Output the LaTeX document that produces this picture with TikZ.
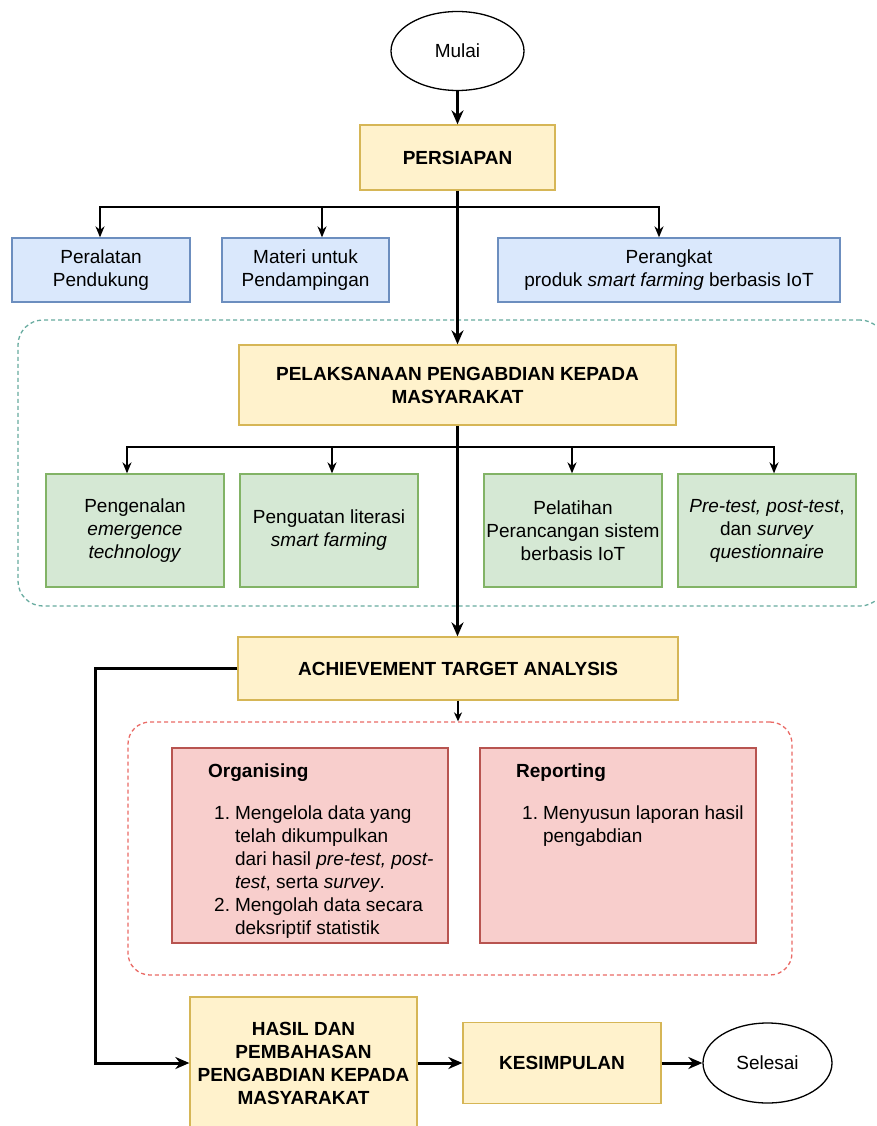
\documentclass[tikz,border=0pt]{standalone}
\usepackage{fontspec}
\setmainfont{Liberation Sans}
\usetikzlibrary{arrows.meta,shapes.geometric}
\definecolor{yfill}{HTML}{FFF2CC}
\definecolor{ystroke}{HTML}{D6B656}
\definecolor{bfill}{HTML}{DAE8FC}
\definecolor{bstroke}{HTML}{6C8EBF}
\definecolor{gfill}{HTML}{D5E8D4}
\definecolor{gstroke}{HTML}{82B366}
\definecolor{rfill}{HTML}{F8CECC}
\definecolor{rstroke}{HTML}{B85450}
\definecolor{tealdash}{HTML}{67AB9F}
\definecolor{reddash}{HTML}{EA6B66}
\begin{document}
\begin{tikzpicture}[x=1pt,y=-1pt,
  txt/.style={font=\fontsize{19}{23}\selectfont},
  box/.style={draw, line width=1.3pt, align=center, inner sep=0pt, txt},
  ybox/.style={box, draw=ystroke, fill=yfill, font=\bfseries\fontsize{19}{23}\selectfont},
  bbox/.style={box, draw=bstroke, fill=bfill},
  gbox/.style={box, draw=gstroke, fill=gfill},
  rbox/.style={box, draw=rstroke, fill=rfill},
  term/.style={ellipse, draw=black, fill=white, line width=1.3pt, inner sep=0pt, txt},
  grp/.style={line width=1.3pt, dash pattern=on 4pt off 3pt, inner sep=0pt},
  thickarr/.style={line width=3pt, -{Stealth[length=14pt,width=12pt]}},
  thinarr/.style={line width=1.8pt, -{Stealth[length=11pt,width=9pt]}},
  ]
\useasboundingbox (0,0) rectangle (876,1126);
\clip (0,0) rectangle (876,1126);
\fill[white] (0,0) rectangle (876,1126);

% groups
\node[grp, draw=tealdash, rounded corners=25pt, minimum width=867pt, minimum height=286pt] (grp1) at (451.5,463) {};
\node[grp, draw=reddash, rounded corners=22pt, minimum width=664pt, minimum height=253pt] (grp2) at (460,848.5) {};

% nodes
\node[term, minimum width=133pt, minimum height=79pt] (mulai) at (457.5,51) {Mulai};
\node[ybox, minimum width=195pt, minimum height=65pt] (persiapan) at (457.5,157.5) {PERSIAPAN};

\node[bbox, minimum width=178pt, minimum height=64pt] (peralatan) at (101,270) {Peralatan\\Pendukung};
\node[bbox, minimum width=167pt, minimum height=64pt] (materi) at (305.5,270) {Materi untuk\\Pendampingan};
\node[bbox, minimum width=342pt, minimum height=64pt] (perangkat) at (669,270) {Perangkat\\produk \textit{smart farming} berbasis IoT};

\node[ybox, minimum width=437pt, minimum height=80pt] (pelaksanaan) at (457.5,385) {PELAKSANAAN PENGABDIAN KEPADA\\MASYARAKAT};

\node[gbox, minimum width=178pt, minimum height=113pt] (g1) at (135,530.5) {Pengenalan\\\textit{emergence}\\\textit{technology}};
\node[gbox, minimum width=178pt, minimum height=113pt] (g2) at (329,530.5) {Penguatan literasi\\\textit{smart farming}};
\node[gbox, minimum width=178pt, minimum height=113pt] (g3) at (573,530.5) {Pelatihan\\Perancangan sistem\\berbasis IoT};
\node[gbox, minimum width=178pt, minimum height=113pt] (g4) at (767,530.5) {\textit{Pre-test, post-test},\\dan \textit{survey}\\\textit{questionnaire}};

\node[ybox, minimum width=440pt, minimum height=63pt] (achievement) at (458,668.5) {ACHIEVEMENT TARGET ANALYSIS};

\node[rbox, minimum width=276pt, minimum height=195pt] (org) at (310,845.5) {};
\node[rbox, minimum width=276pt, minimum height=195pt] (rep) at (618,845.5) {};
\node[txt, font=\bfseries\fontsize{19}{23}\selectfont, anchor=base west, inner sep=0pt] (orgtitle) at (208,777) {Organising};
\node[txt, anchor=base west, inner sep=0pt] (orglist) at (214,819) {\begin{tabular}[t]{@{}r@{\hspace{5pt}}l@{}}
1. & Mengelola data yang\\
 & telah dikumpulkan\\
 & dari hasil \textit{pre-test, post-}\\
 & \textit{test}, serta \textit{survey}.\\
2. & Mengolah data secara\\
 & deksriptif statistik
\end{tabular}};
\node[txt, font=\bfseries\fontsize{19}{23}\selectfont, anchor=base west, inner sep=0pt] (reptitle) at (516,777) {Reporting};
\node[txt, anchor=base west, inner sep=0pt] (replist) at (522,819) {\begin{tabular}[t]{@{}r@{\hspace{5pt}}l@{}}
1. & Menyusun laporan hasil\\
 & pengabdian
\end{tabular}};

\node[ybox, minimum width=227pt, minimum height=132pt] (hasil) at (303.5,1063) {HASIL DAN\\PEMBAHASAN\\PENGABDIAN KEPADA\\MASYARAKAT};
\node[ybox, minimum width=198pt, minimum height=81pt] (kesimpulan) at (562,1063) {KESIMPULAN};
\node[term, minimum width=129pt, minimum height=80pt] (selesai) at (767.5,1063) {Selesai};

% connectors
\draw[thickarr] (mulai) -- (persiapan);
\coordinate (b1) at (457.5,207);
\draw[thinarr] (b1) -| ([xshift=-1pt]peralatan.north);
\draw[thinarr] (b1) -| ([xshift=16.5pt]materi.north);
\draw[thinarr] (b1) -| ([xshift=-10pt]perangkat.north);
\draw[thickarr] (persiapan) -- (pelaksanaan);

\coordinate (b2) at (457.5,447);
\draw[thinarr] (b2) -| ([xshift=-8pt]g1.north);
\draw[thinarr] (b2) -| ([xshift=3pt]g2.north);
\draw[thinarr] (b2) -| ([xshift=-1pt]g3.north);
\draw[thinarr] (b2) -| ([xshift=7pt]g4.north);
\draw[thickarr] (pelaksanaan) -- (achievement.north -| pelaksanaan.south);

\draw[thinarr, line width=1.3pt, -{Stealth[length=9pt,width=8pt]}] (achievement.south) -- (grp2.north -| achievement.south);

\coordinate (c1) at (95,1063);
\draw[thickarr] (achievement.west) -| (c1) -- (hasil.west);
\draw[thickarr] (hasil) -- (kesimpulan);
\draw[thickarr] (kesimpulan) -- (selesai);
\end{tikzpicture}
\end{document}
